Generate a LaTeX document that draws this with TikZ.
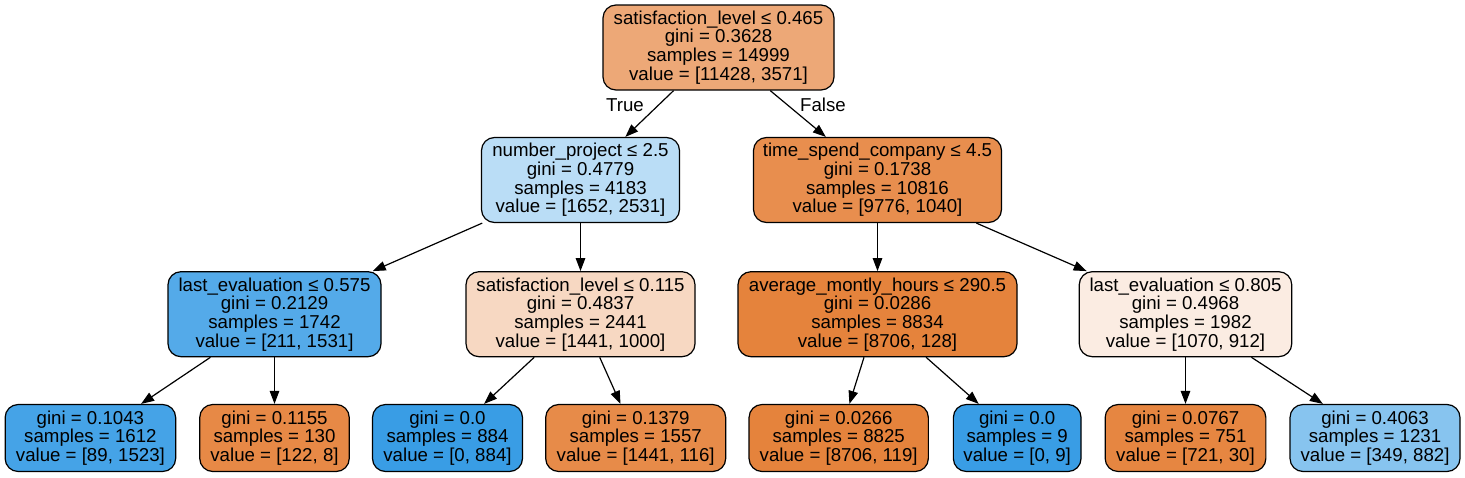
\documentclass[tikz,border=0pt]{standalone}
\usepackage{fontspec}
\setmainfont{Liberation Sans}
\usetikzlibrary{arrows.meta}
\definecolor{cRoot}{RGB}{237,168,119}
\definecolor{cNP}{RGB}{186,221,246}
\definecolor{cTS}{RGB}{232,142,78}
\definecolor{cLEa}{RGB}{84,170,233}
\definecolor{cSLb}{RGB}{247,216,194}
\definecolor{cAVG}{RGB}{229,131,60}
\definecolor{cLEb}{RGB}{251,236,226}
\definecolor{cLa}{RGB}{69,163,231}
\definecolor{cLb}{RGB}{231,137,70}
\definecolor{cLc}{RGB}{57,157,229}
\definecolor{cLd}{RGB}{231,139,73}
\definecolor{cLe}{RGB}{229,131,60}
\definecolor{cLf}{RGB}{57,157,229}
\definecolor{cLg}{RGB}{230,134,65}
\definecolor{cLh}{RGB}{135,196,239}
\tikzset{
  treebox/.style={draw=black, line width=1.2pt, rounded corners=13pt, inner sep=0pt,
    align=center, font=\fontsize{18.67pt}{18.67pt}\selectfont},
  inner4/.style={treebox, minimum height=85pt},
  leaf3/.style={treebox, minimum height=67pt},
  edgelbl/.style={inner sep=0pt, font=\fontsize{18.67pt}{18.67pt}\selectfont},
  conn/.style={draw=black, line width=1.2pt, -{Triangle[length=13pt,width=9.5pt]}}
}
\begin{document}
\begin{tikzpicture}[x=1pt,y=-1pt]
\useasboundingbox (0,0) rectangle (1465,477);
% level 0
\node[inner4, fill=cRoot, minimum width=231pt] (root) at (718.5,47.5)
  {satisfaction\_level ≤ 0.465\\gini = 0.3628\\samples = 14999\\value = [11428, 3571]};
% level 1
\node[inner4, fill=cNP, minimum width=198pt] (np) at (580.5,180)
  {number\_project ≤ 2.5\\gini = 0.4779\\samples = 4183\\value = [1652, 2531]};
\node[inner4, fill=cTS, minimum width=248pt] (ts) at (877.5,180)
  {time\_spend\_company ≤ 4.5\\gini = 0.1738\\samples = 10816\\value = [9776, 1040]};
% level 2
\node[inner4, fill=cLEa, minimum width=213pt] (lea) at (274.5,314.2)
  {last\_evaluation ≤ 0.575\\gini = 0.2129\\samples = 1742\\value = [211, 1531]};
\node[inner4, fill=cSLb, minimum width=229pt] (slb) at (580.5,314.2)
  {satisfaction\_level ≤ 0.115\\gini = 0.4837\\samples = 2441\\value = [1441, 1000]};
\node[inner4, fill=cAVG, minimum width=279pt] (avg) at (877.5,314.2)
  {average\_montly\_hours ≤ 290.5\\gini = 0.0286\\samples = 8834\\value = [8706, 128]};
\node[inner4, fill=cLEb, minimum width=212.5pt] (leb) at (1185.5,314.2)
  {last\_evaluation ≤ 0.805\\gini = 0.4968\\samples = 1982\\value = [1070, 912]};
% leaves
\node[leaf3, fill=cLa, minimum width=170.5pt] (la) at (90.4,438)
  {gini = 0.1043\\samples = 1612\\value = [89, 1523]};
\node[leaf3, fill=cLb, minimum width=149.5pt] (lb) at (274.5,438)
  {gini = 0.1155\\samples = 130\\value = [122, 8]};
\node[leaf3, fill=cLc, minimum width=150pt] (lc) at (447.5,438)
  {gini = 0.0\\samples = 884\\value = [0, 884]};
\node[leaf3, fill=cLd, minimum width=180pt] (ld) at (635.7,438)
  {gini = 0.1379\\samples = 1557\\value = [1441, 116]};
\node[leaf3, fill=cLe, minimum width=179.3pt] (le) at (838.7,438)
  {gini = 0.0266\\samples = 8825\\value = [8706, 119]};
\node[leaf3, fill=cLf, minimum width=127.7pt] (lf) at (1017.2,438)
  {gini = 0.0\\samples = 9\\value = [0, 9]};
\node[leaf3, fill=cLg, minimum width=160.7pt] (lg) at (1185.5,438)
  {gini = 0.0767\\samples = 751\\value = [721, 30]};
\node[leaf3, fill=cLh, minimum width=170pt] (lh) at (1375,438)
  {gini = 0.4063\\samples = 1231\\value = [349, 882]};
% edges
\draw[conn] (root) -- (np);
\draw[conn] (root) -- (ts);
\draw[conn] (np) -- (lea);
\draw[conn] (np) -- (slb);
\draw[conn] (ts) -- (avg);
\draw[conn] (ts) -- (leb);
\draw[conn] (lea) -- (la);
\draw[conn] (lea) -- (lb);
\draw[conn] (slb) -- (lc);
\draw[conn] (slb) -- (ld);
\draw[conn] (avg) -- (le);
\draw[conn] (avg) -- (lf);
\draw[conn] (leb) -- (lg);
\draw[conn] (leb) -- (lh);
% edge labels
\node[edgelbl] (tlbl) at (625,105) {True};
\node[edgelbl] (flbl) at (823,105) {False};
\end{tikzpicture}
\end{document}
